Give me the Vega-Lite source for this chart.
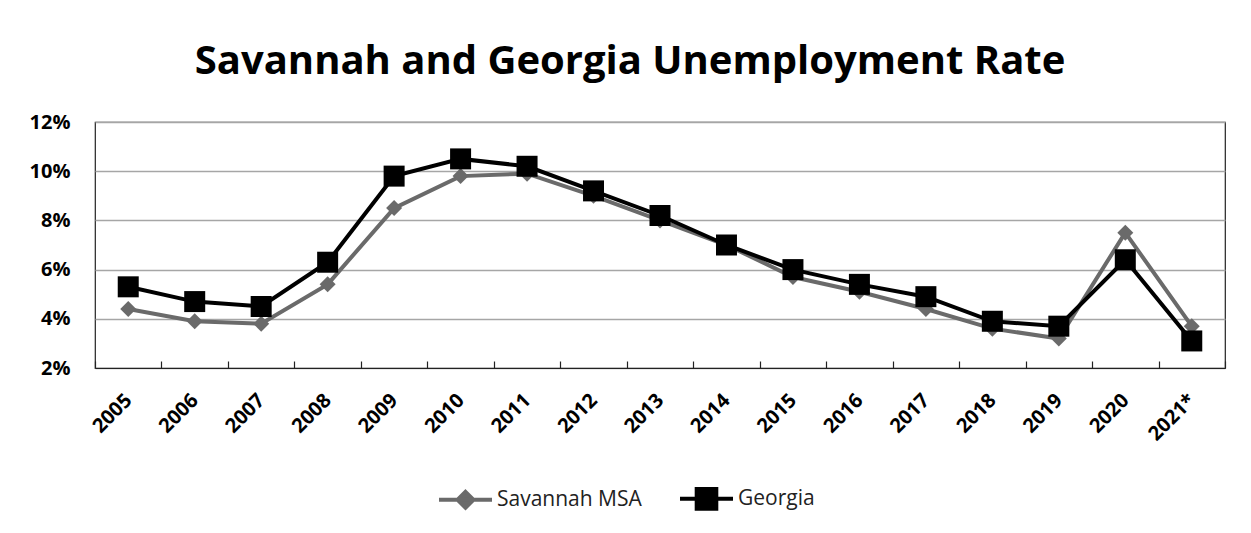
{
  "$schema": "https://vega.github.io/schema/vega-lite/v6.json",
  "autosize": "none",
  "width": 1130,
  "height": 246,
  "padding": {"left": 95, "top": 122, "right": 26, "bottom": 165},
  "background": "white",
  "title": {
    "text": "Savannah and Georgia Unemployment Rate",
    "font": "Open Sans",
    "fontSize": 40,
    "fontWeight": "bold",
    "color": "black",
    "anchor": "middle",
    "baseline": "alphabetic",
    "offset": 40,
    "dy": 42,
    "dx": -30
  },
  "config": {
    "view": {"stroke": "#222", "strokeWidth": 1.2},
    "font": "Open Sans"
  },
  "data": {
    "values": [
      {"year": "2005", "series": "Savannah MSA", "rate": 0.044},
      {"year": "2006", "series": "Savannah MSA", "rate": 0.039},
      {"year": "2007", "series": "Savannah MSA", "rate": 0.038},
      {"year": "2008", "series": "Savannah MSA", "rate": 0.054},
      {"year": "2009", "series": "Savannah MSA", "rate": 0.085},
      {"year": "2010", "series": "Savannah MSA", "rate": 0.098},
      {"year": "2011", "series": "Savannah MSA", "rate": 0.099},
      {"year": "2012", "series": "Savannah MSA", "rate": 0.090},
      {"year": "2013", "series": "Savannah MSA", "rate": 0.080},
      {"year": "2014", "series": "Savannah MSA", "rate": 0.070},
      {"year": "2015", "series": "Savannah MSA", "rate": 0.057},
      {"year": "2016", "series": "Savannah MSA", "rate": 0.051},
      {"year": "2017", "series": "Savannah MSA", "rate": 0.044},
      {"year": "2018", "series": "Savannah MSA", "rate": 0.036},
      {"year": "2019", "series": "Savannah MSA", "rate": 0.032},
      {"year": "2020", "series": "Savannah MSA", "rate": 0.075},
      {"year": "2021*", "series": "Savannah MSA", "rate": 0.037},
      {"year": "2005", "series": "Georgia", "rate": 0.053},
      {"year": "2006", "series": "Georgia", "rate": 0.047},
      {"year": "2007", "series": "Georgia", "rate": 0.045},
      {"year": "2008", "series": "Georgia", "rate": 0.063},
      {"year": "2009", "series": "Georgia", "rate": 0.098},
      {"year": "2010", "series": "Georgia", "rate": 0.105},
      {"year": "2011", "series": "Georgia", "rate": 0.102},
      {"year": "2012", "series": "Georgia", "rate": 0.092},
      {"year": "2013", "series": "Georgia", "rate": 0.082},
      {"year": "2014", "series": "Georgia", "rate": 0.070},
      {"year": "2015", "series": "Georgia", "rate": 0.060},
      {"year": "2016", "series": "Georgia", "rate": 0.054},
      {"year": "2017", "series": "Georgia", "rate": 0.049},
      {"year": "2018", "series": "Georgia", "rate": 0.039},
      {"year": "2019", "series": "Georgia", "rate": 0.037},
      {"year": "2020", "series": "Georgia", "rate": 0.064},
      {"year": "2021*", "series": "Georgia", "rate": 0.031}
    ]
  },
  "encoding": {
    "x": {
      "field": "year",
      "type": "ordinal",
      "sort": null,
      "scale": {"type": "band", "paddingInner": 0, "paddingOuter": 0},
      "axis": {
        "title": null,
        "labelAngle": -45,
        "labelAlign": "right",
        "labelBaseline": "middle",
        "labelFont": "Open Sans",
        "labelFontSize": 20,
        "labelFontWeight": "bold",
        "labelColor": "black",
        "tickBand": "extent",
        "tickSize": -7,
        "tickColor": "#222",
        "tickWidth": 1.2,
        "domainColor": "#222",
        "domainWidth": 1.2,
        "labelPadding": 36,
        "grid": false
      }
    },
    "y": {
      "field": "rate",
      "type": "quantitative",
      "scale": {"domain": [0.02, 0.12], "nice": false, "zero": false},
      "axis": {
        "title": null,
        "values": [0.02, 0.04, 0.06, 0.08, 0.10, 0.12],
        "format": ".0%",
        "ticks": false,
        "domain": false,
        "labelFont": "Open Sans",
        "labelFontSize": 20,
        "labelFontWeight": "bold",
        "labelColor": "black",
        "labelPadding": 25,
        "gridColor": "#a6a6a6",
        "gridWidth": 1.5
      }
    },
    "color": {
      "field": "series",
      "type": "nominal",
      "scale": {"domain": ["Savannah MSA", "Georgia"], "range": ["#6a6a6a", "#000000"]},
      "legend": {
        "title": null,
        "orient": "none",
        "legendX": 342,
        "legendY": 348,
        "direction": "horizontal",
        "symbolSize": 2809,
        "labelFont": "Open Sans",
        "labelFontSize": 21,
        "labelColor": "#222",
        "labelOffset": 3,
        "columnPadding": 30,
        "encode": {
          "symbols": {
            "update": {
              "shape": {"signal": "datum.value === 'Georgia' ? 'M-1,0H1M-0.37,-0.37H0.37V0.37H-0.37Z' : 'M-1,0H1M0,-0.3L0.3,0L0,0.3L-0.3,0Z'"},
              "fill": {"signal": "datum.value === 'Georgia' ? '#000000' : '#6a6a6a'"},
              "stroke": {"signal": "datum.value === 'Georgia' ? '#000000' : '#6a6a6a'"},
              "strokeWidth": {"value": 4},
              "opacity": {"value": 1},
              "fillOpacity": {"value": 1},
              "strokeOpacity": {"value": 1}
            }
          }
        }
      }
    }
  },
  "layer": [
    {
      "transform": [{"filter": "datum.series === 'Savannah MSA'"}],
      "mark": {"type": "line", "strokeWidth": 4}
    },
    {
      "transform": [{"filter": "datum.series === 'Savannah MSA'"}],
      "mark": {"type": "point", "filled": true, "opacity": 1, "size": 256, "shape": "diamond"}
    },
    {
      "transform": [{"filter": "datum.series === 'Georgia'"}],
      "mark": {"type": "line", "strokeWidth": 4}
    },
    {
      "transform": [{"filter": "datum.series === 'Georgia'"}],
      "mark": {"type": "point", "filled": true, "opacity": 1, "size": 441, "shape": "square"}
    }
  ]
}
